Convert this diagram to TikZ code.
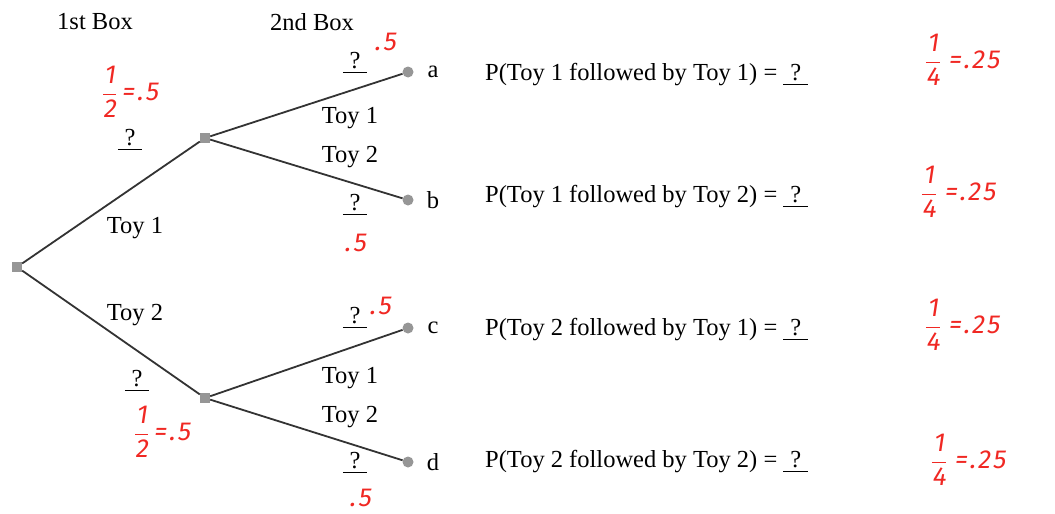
\documentclass[tikz,border=0pt]{standalone}
\usepackage{amsmath}
\usepackage{fontspec}
\setmainfont{Liberation Serif}
\newfontfamily\handfont[FakeSlant=0.15,LetterSpace=8]{Fira Sans}
\definecolor{inkred}{RGB}{240,40,35}
\definecolor{dotgray}{RGB}{150,150,150}
\newcommand{\hfr}[2]{$\dfrac{\text{#1}}{\text{#2}}$}
\newcommand{\blank}{\underline{\;?\;}}
\tikzset{
  txt/.style={font=\fontsize{24.5}{26}\selectfont, inner sep=0pt},
  hand/.style={font=\handfont\fontsize{26}{26}\selectfont, text=inkred, inner sep=0pt},
  sq/.style={rectangle, fill=dotgray, minimum size=10pt, inner sep=0pt},
  leaf/.style={circle, fill=dotgray, minimum size=11pt, inner sep=0pt},
  br/.style={draw=black!80, line width=1.8pt}
}
\begin{document}
\begin{tikzpicture}[x=1pt,y=-1pt]
\useasboundingbox (0,0) rectangle (1055,514);
% tree nodes
\node[sq] (r) at (17,267) {};
\node[sq] (m1) at (205,138) {};
\node[sq] (m2) at (205,398) {};
\node[leaf] (a) at (408,72) {};
\node[leaf] (b) at (408,200) {};
\node[leaf] (c) at (408,328) {};
\node[leaf] (d) at (408,462) {};
\draw[br] (r) -- (m1);
\draw[br] (r) -- (m2);
\draw[br] (m1) -- (a);
\draw[br] (m1) -- (b);
\draw[br] (m2) -- (c);
\draw[br] (m2) -- (d);
% leaf letters
\node[txt] (la) at (433,72) {a};
\node[txt] (lb) at (433,200) {b};
\node[txt] (lc) at (433,328) {c};
\node[txt] (ld) at (433,462) {d};
% headers
\node[txt] (h1) at (95,22) {1st Box};
\node[txt] (h2) at (312,22) {2nd Box};
% branch labels
\node[txt] (t1) at (135,228) {Toy 1};
\node[txt] (t2) at (135,315) {Toy 2};
\node[txt] (t11) at (350,118) {Toy 1};
\node[txt] (t12) at (350,157) {Toy 2};
\node[txt] (t21) at (350,378) {Toy 1};
\node[txt] (t22) at (350,417) {Toy 2};
% blanks
\node[txt] (q1) at (130,140) {\blank};
\node[txt] (q2) at (137,381) {\blank};
\node[txt] (qa) at (355,63) {\blank};
\node[txt] (qb) at (355,205) {\blank};
\node[txt] (qc) at (355,318) {\blank};
\node[txt] (qd) at (355,463) {\blank};
% probability statements
\node[txt, anchor=west] (pa) at (485,75) {P(Toy 1 followed by Toy 1) = \blank};
\node[txt, anchor=west] (pb) at (485,197) {P(Toy 1 followed by Toy 2) = \blank};
\node[txt, anchor=west] (pc) at (485,330) {P(Toy 2 followed by Toy 1) = \blank};
\node[txt, anchor=west] (pd) at (485,462) {P(Toy 2 followed by Toy 2) = \blank};
% handwriting
\node[hand] (r1) at (130,92) {\hfr{1}{2}\,=.5};
\node[hand] (r2) at (162,432) {\hfr{1}{2}\,=.5};
\node[hand] (ra) at (385,42) {.5};
\node[hand] (rb) at (355,243) {.5};
\node[hand] (rc) at (380,306) {.5};
\node[hand] (rd) at (360,498) {.5};
\node[hand] (ea) at (962,60) {\hfr{1}{4}\;=.25};
\node[hand] (eb) at (958,192) {\hfr{1}{4}\;=.25};
\node[hand] (ec) at (962,325) {\hfr{1}{4}\;=.25};
\node[hand] (ed) at (968,460) {\hfr{1}{4}\;=.25};
\end{tikzpicture}
\end{document}
